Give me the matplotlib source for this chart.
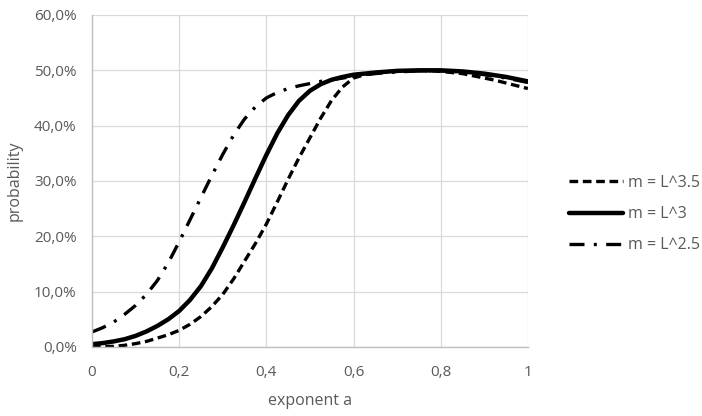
import matplotlib
matplotlib.use("Agg")
import matplotlib.pyplot as plt
from matplotlib.ticker import FuncFormatter, MultipleLocator

exponent_a = [i * 0.025 for i in range(41)]
p_L35 = [0.0, 0.05, 0.1, 0.3, 0.6, 1.0, 1.6, 2.2, 3.0, 4.1, 5.5, 7.3, 9.5, 12.3,
         15.5, 18.7, 22.2, 26.2, 30.3, 34.2, 37.8, 41.4, 44.6, 47.0, 48.6, 49.2,
         49.5, 49.7, 49.8, 49.9, 49.9, 49.9, 49.8, 49.6, 49.4, 49.0, 48.6, 48.2,
         47.7, 47.2, 46.7]
p_L3 = [0.5, 0.7, 1.0, 1.4, 2.0, 2.8, 3.8, 5.0, 6.5, 8.5, 11.0, 14.2, 18.0, 22.0,
        26.2, 30.5, 34.7, 38.6, 41.9, 44.5, 46.3, 47.5, 48.3, 48.8, 49.2, 49.4,
        49.6, 49.75, 49.9, 49.95, 50.0, 50.0, 50.0, 49.9, 49.8, 49.6, 49.4, 49.1,
        48.8, 48.4, 48.0]
p_L25 = [2.7, 3.5, 4.5, 5.9, 7.5, 9.5, 12.0, 15.2, 19.0, 23.0, 27.0, 31.0, 34.8,
         38.3, 41.2, 43.4, 45.0, 46.0, 46.7, 47.2, 47.6, 48.0, 48.3, 48.6, 48.9,
         49.2, 49.4, 49.6, 49.7, 49.8, 49.9, 49.9, 49.9, 49.8, 49.7, 49.5, 49.2,
         48.9, 48.6, 48.2, 47.8]
labels = ["m = L^3.5", "m = L^3", "m = L^2.5"]

plt.rcParams['font.family'] = ['Open Sans', 'DejaVu Sans']
txt = '#595959'

fig = plt.figure(figsize=(7.02, 4.16), dpi=100)
ax = fig.add_axes([0.131, 0.166, 0.621, 0.798])

l1, = ax.plot(exponent_a, [v / 100 for v in p_L35], color='black', lw=2.4,
              dashes=(2.6, 1.4), label=labels[0])
l2, = ax.plot(exponent_a, [v / 100 for v in p_L3], color='black', lw=3.2,
              solid_capstyle='round', solid_joinstyle='round', label=labels[1])
l3, = ax.plot(exponent_a, [v / 100 for v in p_L25], color='black', lw=2.4,
              dashes=(4.5, 2.8, 0.9, 2.8), label=labels[2])

ax.set_xlim(0, 1)
ax.set_ylim(0, 0.6)
ax.xaxis.set_major_locator(MultipleLocator(0.2))
ax.yaxis.set_major_locator(MultipleLocator(0.1))
ax.xaxis.set_major_formatter(FuncFormatter(
    lambda v, p: '0' if abs(v) < 1e-9 else ('1' if abs(v - 1) < 1e-9 else f'{v:.1f}'.replace('.', ','))))
ax.yaxis.set_major_formatter(FuncFormatter(lambda v, p: f'{v*100:.1f}%'.replace('.', ',')))
ax.grid(True, color='#d9d9d9', lw=0.9)
ax.set_axisbelow(True)
for s in ['top', 'right']:
    ax.spines[s].set_visible(False)
for s in ['left', 'bottom']:
    ax.spines[s].set_color('#bfbfbf')
    ax.spines[s].set_linewidth(1.0)
ax.tick_params(axis='y', length=0, colors=txt, labelsize=11, pad=11)
ax.tick_params(axis='x', length=0, colors=txt, labelsize=11, pad=13)
ax.set_xlabel('exponent a', color=txt, fontsize=11.5)
ax.set_ylabel('probability', color=txt, fontsize=11.5)
ax.xaxis.set_label_coords(0.5, -0.14)
ax.yaxis.set_label_coords(-0.16, 0.5)

fig.legend(handles=[l1, l2, l3], loc='center left', bbox_to_anchor=(0.79, 0.485),
           frameon=False, fontsize=11.5, handlelength=3.4, handletextpad=0.3,
           labelspacing=0.95, labelcolor=txt)

fig.savefig('out.png', dpi=100)
